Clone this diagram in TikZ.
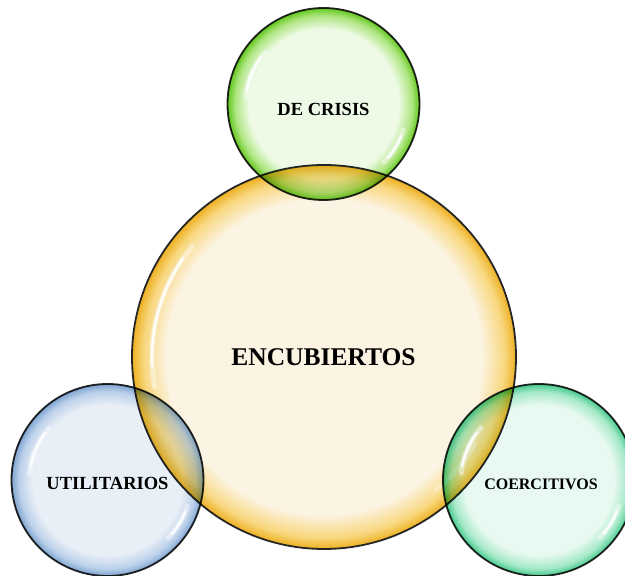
\documentclass[tikz,border=0pt]{standalone}
\usepackage{fontspec}
\setmainfont{Liberation Serif}
\definecolor{ycen}{HTML}{FCF4E3}
\definecolor{ymid}{HTML}{F8D77E}
\definecolor{yedge}{HTML}{EDB020}
\definecolor{gcen}{HTML}{EEFAE6}
\definecolor{gmid}{HTML}{AEE681}
\definecolor{gedge}{HTML}{62C61E}
\definecolor{bcen}{HTML}{E9EFF7}
\definecolor{bmid}{HTML}{BCD1EA}
\definecolor{bedge}{HTML}{7FA4D0}
\definecolor{tcen}{HTML}{E8F9F1}
\definecolor{tmid}{HTML}{A6E9C8}
\definecolor{tedge}{HTML}{45C98D}
\pgfdeclareradialshading{yball}{\pgfpoint{0bp}{0bp}}{color(0bp)=(ycen); color(20.5bp)=(ycen); color(23.5bp)=(ymid); color(25bp)=(yedge); color(50bp)=(yedge)}
\pgfdeclareradialshading{gball}{\pgfpoint{0bp}{0bp}}{color(0bp)=(gcen); color(19.5bp)=(gcen); color(23bp)=(gmid); color(25bp)=(gedge); color(50bp)=(gedge)}
\pgfdeclareradialshading{bball}{\pgfpoint{0bp}{0bp}}{color(0bp)=(bcen); color(19.5bp)=(bcen); color(23bp)=(bmid); color(25bp)=(bedge); color(50bp)=(bedge)}
\pgfdeclareradialshading{tball}{\pgfpoint{0bp}{0bp}}{color(0bp)=(tcen); color(19.5bp)=(tcen); color(23bp)=(tmid); color(25bp)=(tedge); color(50bp)=(tedge)}
\tikzset{
  bubble/.style={circle, inner sep=0pt, draw=black!85, line width=1.8pt, shade},
  hlwide/.style={white, line cap=round, line width=5pt, opacity=0.45},
  hlthin/.style={white, line cap=round, line width=2.2pt, opacity=0.95},
  lbl/.style={inner sep=0pt, text=black},
}
\begin{document}
\begin{tikzpicture}[x=1pt,y=1pt]
\useasboundingbox (0,0) rectangle (625,576);
% central circle
\node[bubble, minimum size=384pt, shading=yball] (enc) at (324,219) {};
\draw[hlwide] (enc.center) ++(140:172pt) arc[start angle=140, end angle=190, radius=172pt];
\draw[hlthin] (enc.center) ++(145:172pt) arc[start angle=145, end angle=183, radius=172pt];
\draw[hlwide, opacity=0.3] (enc.center) ++(-30:174pt) arc[start angle=-30, end angle=-50, radius=174pt];
\node[lbl, font=\bfseries\fontsize{25.5}{26}\selectfont] (tenc) at (323.5,219) {ENCUBIERTOS};
% small circles
\begin{scope}[blend mode=multiply]
\node[bubble, minimum size=192pt, shading=gball] (cri) at (323.5,472) {};
\node[bubble, minimum size=192pt, shading=bball] (uti) at (107.5,96) {};
\node[bubble, minimum size=192pt, shading=tball] (coe) at (539,96) {};
\end{scope}
\foreach \c in {cri,uti,coe}{
  \draw[hlwide] (\c.center) ++(138:78pt) arc[start angle=138, end angle=175, radius=78pt];
  \draw[hlthin] (\c.center) ++(143:78pt) arc[start angle=143, end angle=170, radius=78pt];
  \draw[hlwide] (\c.center) ++(-18:84pt) arc[start angle=-18, end angle=-44, radius=84pt];
  \draw[hlthin] (\c.center) ++(-22:84pt) arc[start angle=-22, end angle=-40, radius=84pt];
}
\node[lbl, font=\bfseries\fontsize{18.5}{19}\selectfont] (tcri) at (323.5,467) {DE CRISIS};
\node[lbl, font=\bfseries\fontsize{18.5}{19}\selectfont] (tuti) at (107.5,93) {UTILITARIOS};
\node[lbl, font=\bfseries\fontsize{16}{17}\selectfont] (tcoe) at (541,92) {COERCITIVOS};
\end{tikzpicture}
\end{document}
